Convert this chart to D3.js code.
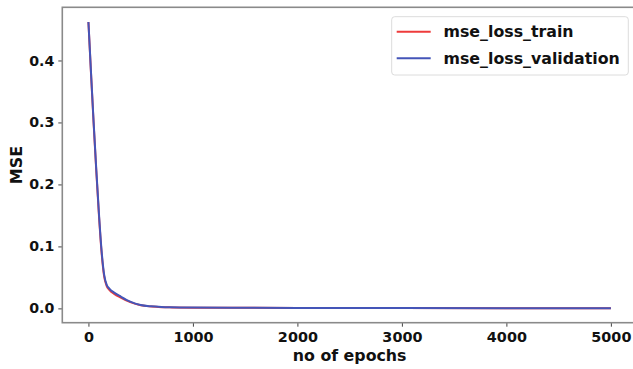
<!DOCTYPE html>
<html>
<head>
<meta charset="utf-8">
<script src="https://cdn.jsdelivr.net/npm/d3@7"></script>
<style>
  body { margin: 0; background: #fff; }
  svg { display: block; font-family: "DejaVu Sans", sans-serif; }
</style>
</head>
<body>
<script>
/* data */
var epochs = [0, 25, 50, 75, 100, 125, 150, 175, 200, 250, 300, 400, 500, 600, 700, 800, 1000, 1500, 2000, 3000, 4000, 5000];
var lossTrain = [0.462, 0.378, 0.298, 0.222, 0.152, 0.092, 0.052, 0.036, 0.030, 0.023, 0.018, 0.010, 0.0050, 0.0030, 0.0020, 0.0016, 0.0012, 0.0010, 0.0008, 0.0005, 0.0004, 0.0003];
var lossValid = [0.462, 0.380, 0.300, 0.225, 0.155, 0.095, 0.055, 0.038, 0.032, 0.025, 0.020, 0.011, 0.0055, 0.0033, 0.0022, 0.0017, 0.0013, 0.0010, 0.0008, 0.0005, 0.0004, 0.0003];
var xTicks = [0, 1000, 2000, 3000, 4000, 5000];
var yTicks = [0.0, 0.1, 0.2, 0.3, 0.4];
var seriesNames = ["mse_loss_train", "mse_loss_validation"];
var seriesColors = ["#ee3b3b", "#4455b8"];

var width = 633, height = 369;
var mLeft = 62.3, mRight = 637, mTop = 7.3, mBottom = 322.7;

var svg = d3.select("body").append("svg")
  .attr("width", width).attr("height", height);

// matplotlib style 5% margins
var x = d3.scaleLinear().domain([-250, 5250]).range([mLeft, mRight]);
var y = d3.scaleLinear().domain([-0.0231, 0.4858]).range([mBottom, mTop]);

// x axis
var xAxis = svg.append("g")
  .attr("transform", "translate(0," + mBottom + ")")
  .call(d3.axisBottom(x).tickValues(xTicks).tickSize(4).tickPadding(5).tickFormat(d3.format("d")));
xAxis.select(".domain").remove();
xAxis.selectAll("line").attr("stroke", "#444");
xAxis.selectAll("text").attr("font-size", 14.4).attr("font-weight", "bold")
  .attr("fill", "#111").attr("font-family", "DejaVu Sans");

// y axis
var yAxis = svg.append("g")
  .attr("transform", "translate(" + mLeft + ",0)")
  .call(d3.axisLeft(y).tickValues(yTicks).tickSize(4).tickPadding(4).tickFormat(d3.format(".1f")));
yAxis.select(".domain").remove();
yAxis.selectAll("line").attr("stroke", "#444");
yAxis.selectAll("text").attr("font-size", 14.2).attr("font-weight", "bold")
  .attr("fill", "#111").attr("font-family", "DejaVu Sans");

// spines
svg.append("rect")
  .attr("x", mLeft).attr("y", mTop)
  .attr("width", mRight - mLeft).attr("height", mBottom - mTop)
  .attr("fill", "none").attr("stroke", "#8a8a8a").attr("stroke-width", 1.6);

// lines
var line = d3.line().curve(d3.curveMonotoneX)
  .x(function(d) { return x(d[0]); }).y(function(d) { return y(d[1]); });
[lossTrain, lossValid].forEach(function(vals, i) {
  svg.append("path")
    .datum(epochs.map(function(e, j) { return [e, vals[j]]; }))
    .attr("d", line)
    .attr("fill", "none")
    .attr("stroke", seriesColors[i])
    .attr("stroke-width", 2);
});

// axis titles
svg.append("text")
  .attr("x", (mLeft + mRight) / 2).attr("y", 361)
  .attr("text-anchor", "middle")
  .attr("font-size", 15.8).attr("font-weight", "bold").attr("fill", "#111")
  .text("no of epochs");

svg.append("text")
  .attr("transform", "translate(22," + ((mTop + mBottom) / 2) + ") rotate(-90)")
  .attr("text-anchor", "middle")
  .attr("font-size", 16).attr("font-weight", "bold").attr("fill", "#111")
  .text("MSE");

// legend
var legend = svg.append("g");
legend.append("rect")
  .attr("x", 391.7).attr("y", 16.7).attr("width", 236.6).attr("height", 58.3)
  .attr("rx", 3).attr("fill", "#fff").attr("stroke", "#dcdcdc").attr("stroke-width", 1);
seriesNames.forEach(function(name, i) {
  var ly = 31.7 + i * 26.6;
  legend.append("line")
    .attr("x1", 396.7).attr("x2", 430.7).attr("y1", ly).attr("y2", ly)
    .attr("stroke", seriesColors[i]).attr("stroke-width", 2);
  legend.append("text")
    .attr("x", 443.5).attr("y", ly + 5.6)
    .attr("font-size", 15.8).attr("font-weight", "bold").attr("fill", "#111")
    .text(name);
});
</script>
</body>
</html>
